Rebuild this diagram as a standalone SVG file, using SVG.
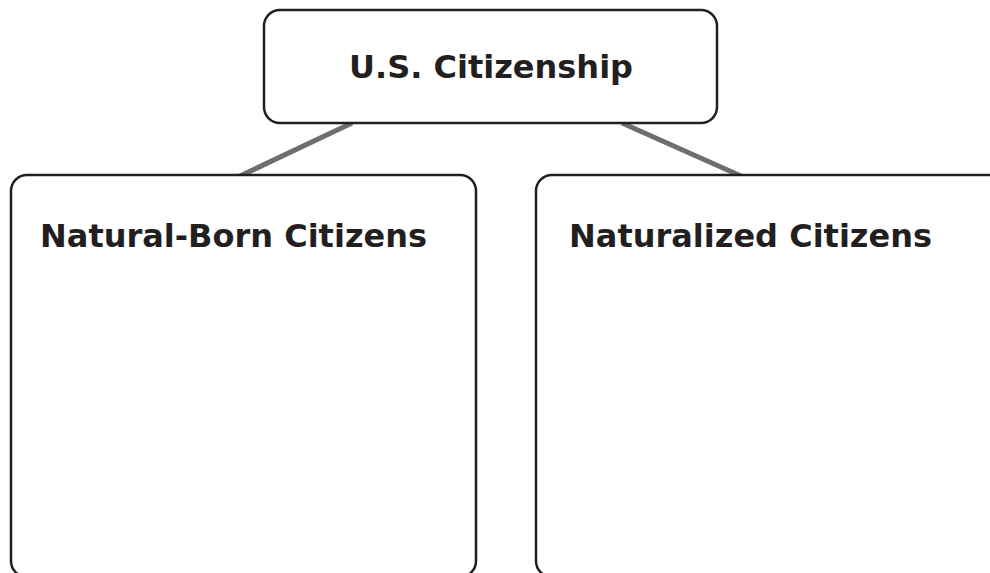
<svg xmlns="http://www.w3.org/2000/svg" width="990" height="573" viewBox="0 0 990 573">
<style>
.box{fill:#fff;stroke:#231f20;stroke-width:2.5}
.lbl{font-family:"DejaVu Sans",Verdana,sans-serif;font-weight:bold;font-size:32px;fill:#231f20}
.conn{stroke:#6d6e71;stroke-width:5;fill:none}
</style>
<rect width="990" height="573" fill="#fff"/>
<g id="connectors">
<line class="conn" x1="352" y1="123" x2="240" y2="176"/>
<line class="conn" x1="622" y1="123" x2="741" y2="176"/>
</g>
<g id="root">
<rect class="box" x="264" y="10" width="453" height="113" rx="16"/>
<text class="lbl" x="491" y="78" text-anchor="middle">U.S. Citizenship</text>
</g>
<g id="natural-born">
<rect class="box" x="11" y="175" width="465" height="402" rx="16"/>
<text class="lbl" x="40" y="247">Natural-Born Citizens</text>
</g>
<g id="naturalized">
<rect class="box" x="536" y="175" width="480" height="402" rx="16"/>
<text class="lbl" x="569" y="247">Naturalized Citizens</text>
</g>
</svg>
